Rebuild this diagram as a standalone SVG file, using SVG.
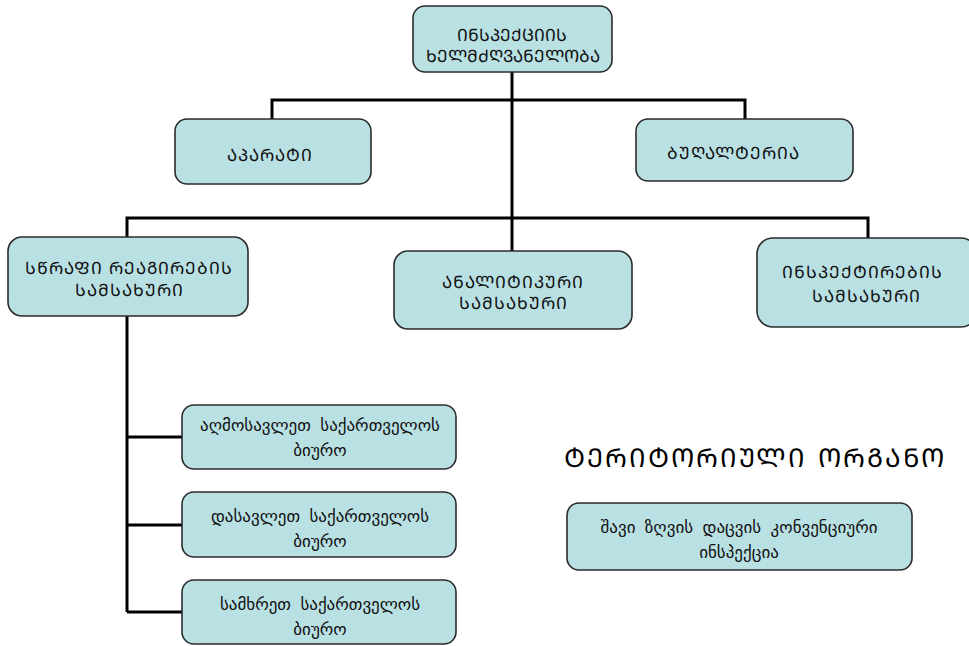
<svg xmlns="http://www.w3.org/2000/svg" width="969" height="646" viewBox="0 0 969 646">
<style>
.box{fill:#b9e0e3;stroke:#2b2b2b;stroke-width:1.6}
.t{font-family:"DejaVu Sans","Noto Sans",sans-serif;font-size:17px;fill:#111;text-anchor:middle;letter-spacing:1px}
.h{letter-spacing:0px}
.c{font-family:"DejaVu Sans","Noto Sans",sans-serif;font-size:17px;fill:#111;text-anchor:middle;word-spacing:4px}
.conn{fill:none;stroke:#000;stroke-width:3}
</style>
<rect width="969" height="646" fill="#fff"/>
<g id="connectors" class="conn">
<path d="M512 72V218"/>
<path d="M272 119V100H745V119"/>
<path d="M127 237V218H868V238"/>
<path d="M512 218V251"/>
<path d="M127 316V612"/>
<path d="M127 437H182M127 525H182M127 612H182"/>
</g>
<g id="n-head"><rect class="box" x="413" y="6" width="199" height="66" rx="12"/>
<text class="t h" x="512" y="41">ᲘᲜᲡᲞᲔᲥᲪᲘᲘᲡ</text><text class="t h" x="513" y="62">ᲮᲔᲚᲛᲫᲦᲕᲐᲜᲔᲚᲝᲑᲐ</text></g>
<g id="n-aparati"><rect class="box" x="175" y="119" width="196" height="65" rx="12"/>
<text class="t" x="270" y="161">ᲐᲞᲐᲠᲐᲢᲘ</text></g>
<g id="n-buhalteria"><rect class="box" x="636" y="119" width="217" height="62" rx="12"/>
<text class="t" x="733" y="159">ᲑᲣᲦᲐᲚᲢᲔᲠᲘᲐ</text></g>
<g id="n-rapid"><rect class="box" x="8" y="237" width="240" height="79" rx="14"/>
<text class="t" x="129" y="274">ᲡᲬᲠᲐᲤᲘ  ᲠᲔᲐᲒᲘᲠᲔᲑᲘᲡ</text><text class="t" x="129" y="296">ᲡᲐᲛᲡᲐᲮᲣᲠᲘ</text></g>
<g id="n-analytic"><rect class="box" x="394" y="251" width="238" height="78" rx="14"/>
<text class="t" x="513" y="288">ᲐᲜᲐᲚᲘᲢᲘᲙᲣᲠᲘ</text><text class="t" x="513" y="309">ᲡᲐᲛᲡᲐᲮᲣᲠᲘ</text></g>
<g id="n-inspect"><rect class="box" x="757" y="238" width="220" height="89" rx="16"/>
<text class="t" x="862" y="278">ᲘᲜᲡᲞᲔᲥᲢᲘᲠᲔᲑᲘᲡ</text><text class="t" x="866" y="302">ᲡᲐᲛᲡᲐᲮᲣᲠᲘ</text></g>
<g id="n-east"><rect class="box" x="182" y="405" width="274" height="64" rx="12"/>
<text class="c" x="320" y="431">აღმოსავლეთ  საქართველოს</text><text class="c" x="320" y="456">ბიურო</text></g>
<g id="n-west"><rect class="box" x="182" y="492" width="274" height="65" rx="12"/>
<text class="c" x="320" y="522">დასავლეთ  საქართველოს</text><text class="c" x="320" y="547">ბიურო</text></g>
<g id="n-south"><rect class="box" x="182" y="580" width="274" height="64" rx="12"/>
<text class="c" x="320" y="610">სამხრეთ  საქართველოს</text><text class="c" x="320" y="635">ბიურო</text></g>
<g id="title"><text x="755" y="467" style="font-family:'DejaVu Sans','Noto Sans',sans-serif;font-size:26px;fill:#000;text-anchor:middle;letter-spacing:2px">ᲢᲔᲠᲘᲢᲝᲠᲘᲣᲚᲘ  ᲝᲠᲒᲐᲜᲝ</text></g>
<g id="n-blacksea"><rect class="box" x="567" y="503" width="345" height="67" rx="12"/>
<text class="c" x="739" y="533">შავი  ზღვის  დაცვის  კონვენციური</text><text class="c" x="739" y="558">ინსპექცია</text></g>
</svg>
